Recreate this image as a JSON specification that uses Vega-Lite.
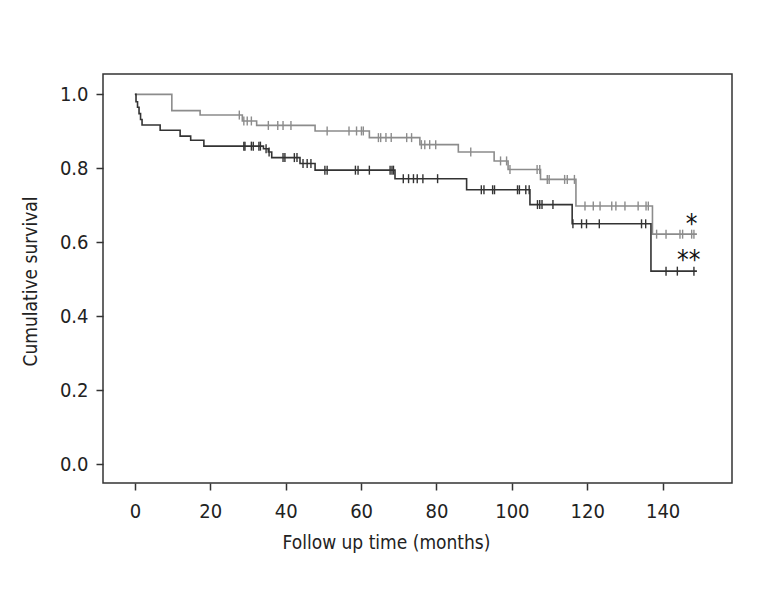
{
  "$schema": "https://vega.github.io/schema/vega-lite/v6.json",
  "width": 629,
  "height": 409,
  "autosize": {"type": "none"},
  "padding": {"left": 103, "top": 74, "right": 36, "bottom": 117},
  "background": "white",
  "config": {
    "view": {"stroke": "#333333", "strokeWidth": 1.5},
    "axis": {
      "grid": false,
      "domain": false,
      "tickSize": 7,
      "tickWidth": 1.5,
      "tickColor": "#333333",
      "labelFont": "DejaVu Sans Condensed, Roboto, sans-serif",
      "labelFontSize": 20,
      "labelColor": "#222222",
      "titleFont": "DejaVu Sans Condensed, Roboto, sans-serif",
      "titleFontSize": 19,
      "titleFontWeight": "normal",
      "titleColor": "#222222"
    }
  },
  "datasets": {
    "curves": [
      {"group": "A", "t": 0, "s": 1.0},
      {"group": "A", "t": 9.8, "s": 0.956},
      {"group": "A", "t": 17.3, "s": 0.944},
      {"group": "A", "t": 28.5, "s": 0.928},
      {"group": "A", "t": 32.3, "s": 0.916},
      {"group": "A", "t": 47.8, "s": 0.901},
      {"group": "A", "t": 62.2, "s": 0.883},
      {"group": "A", "t": 75.6, "s": 0.864},
      {"group": "A", "t": 85.8, "s": 0.844},
      {"group": "A", "t": 95.3, "s": 0.82},
      {"group": "A", "t": 99.0, "s": 0.797},
      {"group": "A", "t": 107.6, "s": 0.77},
      {"group": "A", "t": 117.0, "s": 0.698},
      {"group": "A", "t": 137.3, "s": 0.622},
      {"group": "A", "t": 149.1, "s": 0.622},
      {"group": "B", "t": 0, "s": 1.0},
      {"group": "B", "t": 0.3, "s": 0.98},
      {"group": "B", "t": 0.7, "s": 0.965},
      {"group": "B", "t": 1.1, "s": 0.948},
      {"group": "B", "t": 1.5, "s": 0.932},
      {"group": "B", "t": 1.9, "s": 0.917},
      {"group": "B", "t": 6.7, "s": 0.903},
      {"group": "B", "t": 12.0, "s": 0.887},
      {"group": "B", "t": 14.8, "s": 0.876},
      {"group": "B", "t": 18.3, "s": 0.86},
      {"group": "B", "t": 34.1, "s": 0.853},
      {"group": "B", "t": 35.4, "s": 0.844},
      {"group": "B", "t": 36.3, "s": 0.829},
      {"group": "B", "t": 43.8, "s": 0.813},
      {"group": "B", "t": 47.8, "s": 0.795},
      {"group": "B", "t": 69.0, "s": 0.772},
      {"group": "B", "t": 88.0, "s": 0.742},
      {"group": "B", "t": 104.8, "s": 0.702},
      {"group": "B", "t": 116.0, "s": 0.65},
      {"group": "B", "t": 136.9, "s": 0.522},
      {"group": "B", "t": 149.1, "s": 0.522}
    ],
    "censors": [
      {"group": "A", "t": 27.7, "s": 0.944},
      {"group": "A", "t": 28.9, "s": 0.928},
      {"group": "A", "t": 29.8, "s": 0.928},
      {"group": "A", "t": 30.9, "s": 0.928},
      {"group": "A", "t": 35.4, "s": 0.916},
      {"group": "A", "t": 37.9, "s": 0.916},
      {"group": "A", "t": 39.3, "s": 0.916},
      {"group": "A", "t": 41.4, "s": 0.916},
      {"group": "A", "t": 51.0, "s": 0.901},
      {"group": "A", "t": 56.8, "s": 0.901},
      {"group": "A", "t": 58.8, "s": 0.901},
      {"group": "A", "t": 60.1, "s": 0.901},
      {"group": "A", "t": 60.6, "s": 0.901},
      {"group": "A", "t": 64.6, "s": 0.883},
      {"group": "A", "t": 65.2, "s": 0.883},
      {"group": "A", "t": 66.6, "s": 0.883},
      {"group": "A", "t": 68.0, "s": 0.883},
      {"group": "A", "t": 72.1, "s": 0.883},
      {"group": "A", "t": 73.4, "s": 0.883},
      {"group": "A", "t": 76.0, "s": 0.864},
      {"group": "A", "t": 76.9, "s": 0.864},
      {"group": "A", "t": 78.2, "s": 0.864},
      {"group": "A", "t": 79.8, "s": 0.864},
      {"group": "A", "t": 89.1, "s": 0.844},
      {"group": "A", "t": 97.0, "s": 0.82},
      {"group": "A", "t": 98.6, "s": 0.82},
      {"group": "A", "t": 99.5, "s": 0.797},
      {"group": "A", "t": 106.7, "s": 0.797},
      {"group": "A", "t": 107.4, "s": 0.797},
      {"group": "A", "t": 109.4, "s": 0.77},
      {"group": "A", "t": 109.9, "s": 0.77},
      {"group": "A", "t": 114.0, "s": 0.77},
      {"group": "A", "t": 114.7, "s": 0.77},
      {"group": "A", "t": 116.6, "s": 0.77},
      {"group": "A", "t": 119.4, "s": 0.698},
      {"group": "A", "t": 121.6, "s": 0.698},
      {"group": "A", "t": 123.4, "s": 0.698},
      {"group": "A", "t": 126.5, "s": 0.698},
      {"group": "A", "t": 127.6, "s": 0.698},
      {"group": "A", "t": 130.0, "s": 0.698},
      {"group": "A", "t": 133.5, "s": 0.698},
      {"group": "A", "t": 135.6, "s": 0.698},
      {"group": "A", "t": 136.2, "s": 0.698},
      {"group": "A", "t": 138.4, "s": 0.622},
      {"group": "A", "t": 140.9, "s": 0.622},
      {"group": "A", "t": 144.6, "s": 0.622},
      {"group": "A", "t": 145.3, "s": 0.622},
      {"group": "A", "t": 147.7, "s": 0.622},
      {"group": "A", "t": 148.3, "s": 0.622},
      {"group": "B", "t": 28.9, "s": 0.86},
      {"group": "B", "t": 29.2, "s": 0.86},
      {"group": "B", "t": 30.9, "s": 0.86},
      {"group": "B", "t": 31.4, "s": 0.86},
      {"group": "B", "t": 32.9, "s": 0.86},
      {"group": "B", "t": 33.3, "s": 0.86},
      {"group": "B", "t": 34.8, "s": 0.853},
      {"group": "B", "t": 35.6, "s": 0.844},
      {"group": "B", "t": 39.3, "s": 0.829},
      {"group": "B", "t": 39.8, "s": 0.829},
      {"group": "B", "t": 42.3, "s": 0.829},
      {"group": "B", "t": 43.0, "s": 0.829},
      {"group": "B", "t": 44.6, "s": 0.813},
      {"group": "B", "t": 45.7, "s": 0.813},
      {"group": "B", "t": 46.7, "s": 0.813},
      {"group": "B", "t": 50.4, "s": 0.795},
      {"group": "B", "t": 51.0, "s": 0.795},
      {"group": "B", "t": 58.5, "s": 0.795},
      {"group": "B", "t": 59.2, "s": 0.795},
      {"group": "B", "t": 62.2, "s": 0.795},
      {"group": "B", "t": 67.7, "s": 0.795},
      {"group": "B", "t": 68.2, "s": 0.795},
      {"group": "B", "t": 68.6, "s": 0.795},
      {"group": "B", "t": 71.2, "s": 0.772},
      {"group": "B", "t": 72.6, "s": 0.772},
      {"group": "B", "t": 73.9, "s": 0.772},
      {"group": "B", "t": 74.9, "s": 0.772},
      {"group": "B", "t": 76.4, "s": 0.772},
      {"group": "B", "t": 80.3, "s": 0.772},
      {"group": "B", "t": 91.9, "s": 0.742},
      {"group": "B", "t": 92.6, "s": 0.742},
      {"group": "B", "t": 94.9, "s": 0.742},
      {"group": "B", "t": 95.4, "s": 0.742},
      {"group": "B", "t": 101.5, "s": 0.742},
      {"group": "B", "t": 102.0, "s": 0.742},
      {"group": "B", "t": 103.7, "s": 0.742},
      {"group": "B", "t": 104.6, "s": 0.742},
      {"group": "B", "t": 106.8, "s": 0.702},
      {"group": "B", "t": 107.4, "s": 0.702},
      {"group": "B", "t": 108.0, "s": 0.702},
      {"group": "B", "t": 110.9, "s": 0.702},
      {"group": "B", "t": 116.2, "s": 0.65},
      {"group": "B", "t": 118.5, "s": 0.65},
      {"group": "B", "t": 119.8, "s": 0.65},
      {"group": "B", "t": 123.2, "s": 0.65},
      {"group": "B", "t": 134.4, "s": 0.65},
      {"group": "B", "t": 135.5, "s": 0.65},
      {"group": "B", "t": 140.9, "s": 0.522},
      {"group": "B", "t": 143.9, "s": 0.522},
      {"group": "B", "t": 148.3, "s": 0.522}
    ],
    "marks": [
      {"group": "A", "t": 147.7, "s": 0.664, "label": "*"},
      {"group": "B", "t": 146.9, "s": 0.565, "label": "**"}
    ]
  },
  "encoding": {
    "x": {
      "field": "t",
      "type": "quantitative",
      "scale": {"domain": [-8.46, 158.4], "nice": false, "zero": false},
      "axis": {
        "values": [0, 20, 40, 60, 80, 100, 120, 140],
        "labelPadding": 11,
        "title": "Follow up time (months)",
        "titleX": 283,
        "titleY": 59,
        "titleBaseline": "middle",
        "titleAlign": "center"
      }
    },
    "y": {
      "field": "s",
      "type": "quantitative",
      "scale": {"domain": [-0.0507, 1.055], "nice": false, "zero": false},
      "axis": {
        "values": [0, 0.2, 0.4, 0.6, 0.8, 1.0],
        "format": ".1f",
        "labelPadding": 8,
        "title": "Cumulative survival",
        "titleX": -73,
        "titleY": 207,
        "titleAngle": -90,
        "titleBaseline": "middle",
        "titleAlign": "center"
      }
    }
  },
  "layer": [
    {
      "data": {"name": "curves"},
      "mark": {"type": "line", "interpolate": "step-after", "strokeWidth": 1.6},
      "encoding": {
        "color": {
          "field": "group",
          "type": "nominal",
          "scale": {"domain": ["A", "B"], "range": ["#8c8c8c", "#333333"]},
          "legend": null
        }
      }
    },
    {
      "data": {"name": "censors"},
      "mark": {"type": "tick", "orient": "vertical", "size": 9, "thickness": 1.4, "opacity": 1},
      "encoding": {
        "color": {
          "field": "group",
          "type": "nominal",
          "scale": {"domain": ["A", "B"], "range": ["#8c8c8c", "#333333"]},
          "legend": null
        }
      }
    },
    {
      "data": {"name": "marks"},
      "mark": {"type": "text", "font": "DejaVu Sans Condensed, Roboto, sans-serif", "fontSize": 26, "baseline": "middle", "align": "center", "dy": 6, "color": "#111111"},
      "encoding": {
        "text": {"field": "label", "type": "nominal"}
      }
    }
  ]
}
